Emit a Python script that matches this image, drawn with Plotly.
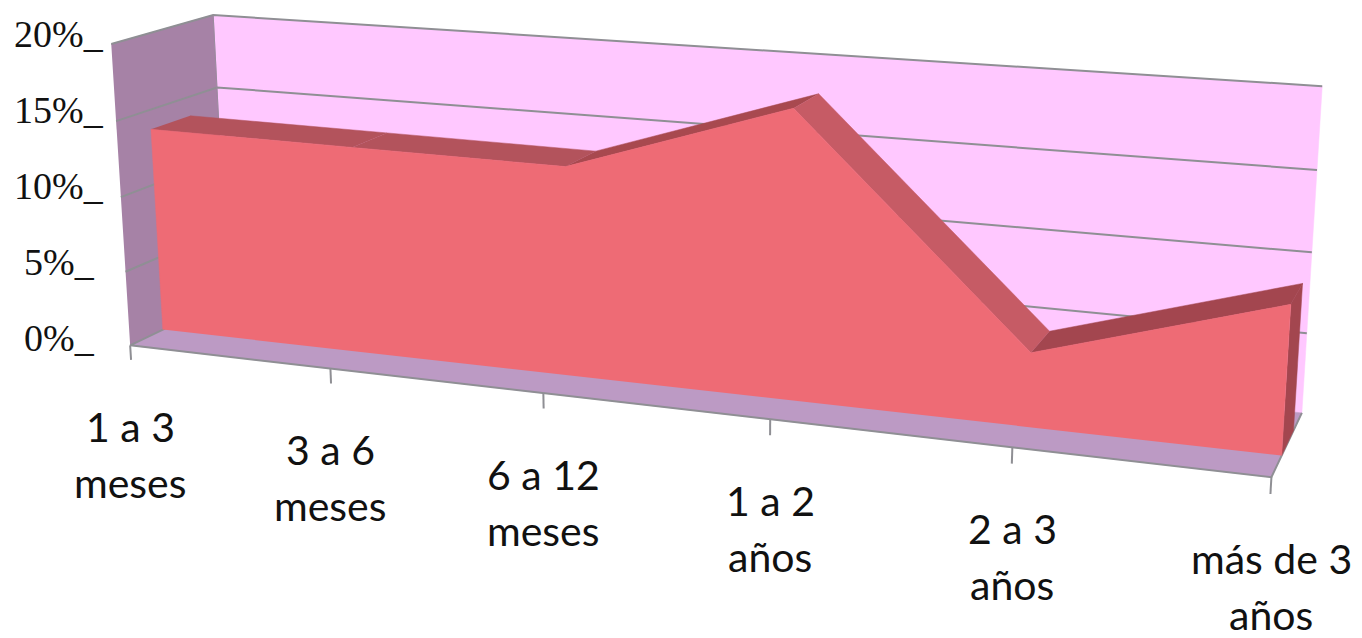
import numpy as np
import plotly.graph_objects as go

categories = [["1 a 3", "meses"], ["3 a 6", "meses"], ["6 a 12", "meses"],
              ["1 a 2", "años"], ["2 a 3", "años"], ["más de 3", "años"]]
values = [13.7, 13.6, 13.5, 18.2, 4.6, 9.0]
y_ticks = [0, 5, 10, 15, 20]
y_tick_labels = ["0%_", "5%_", "10%_", "15%_", "20%_"]

# Camera calibration: (category index, percent, depth) -> page pixel
CAMERA_FROM = [(0, 20, 0), (0, 0, 0), (0, 10, 0), (0, 20, 1), (0, 15, 1), (0, 0, 1),
               (5, 20, 1), (5, 10, 1), (5, 0, 1), (5, 0, 0),
               (1, 0, 0), (2, 0, 0), (3, 0, 0), (4, 0, 0)]
CAMERA_TO = [(112, 44), (131, 343), (120, 198), (213, 14), (217, 87), (228, 301),
             (1322, 87), (1312, 253), (1302, 410), (1272, 477),
             (330, 368), (543, 393), (770, 420), (1012, 449)]


def fit_camera():
    rows, rhs = [], []
    for (a, b, c), (u, v) in zip(CAMERA_FROM, CAMERA_TO):
        rows.append([a, b, c, 1, 0, 0, 0, 0, -u * a, -u * b, -u * c])
        rhs.append(u)
        rows.append([0, 0, 0, 0, a, b, c, 1, -v * a, -v * b, -v * c])
        rhs.append(v)
    sol = np.linalg.lstsq(np.array(rows, float), np.array(rhs, float), rcond=None)[0]
    return np.append(sol, 1.0).reshape(3, 4)


P = fit_camera()


def project(points):
    q = P @ np.column_stack([np.array(points, float), np.ones(len(points))]).T
    return (q[0] / q[2]).tolist(), (q[1] / q[2]).tolist()


fig = go.Figure()


def poly(points, color):
    xs, ys = project(points)
    fig.add_trace(go.Scatter(x=xs, y=ys, mode="lines", fill="toself", fillcolor=color,
                             line=dict(width=0.5, color=color), hoverinfo="skip", showlegend=False))


def line(points, color, width=2):
    xs, ys = project(points)
    fig.add_trace(go.Scatter(x=xs, y=ys, mode="lines", line=dict(width=width, color=color),
                             hoverinfo="skip", showlegend=False))


N = len(values) - 1
FRONT, BACK = 0.32, 0.71
WALL, SIDE, FLOOR, FACE = "#ffc8ff", "#a682a6", "#bc9ac4", "#ee6b75"
GRID = "#8f8f94"

poly([(0, 0, 1), (N, 0, 1), (N, 20, 1), (0, 20, 1)], WALL)
poly([(0, 0, 0), (0, 0, 1), (0, 20, 1), (0, 20, 0)], SIDE)
poly([(0, 0, 0), (N, 0, 0), (N, 0, 1), (0, 0, 1)], FLOOR)
for t in y_ticks[1:]:
    line([(0, t, 0), (0, t, 1), (N, t, 1)], GRID)
line([(0, 0, 1), (0, 20, 1)], "#9a8a9e", 1)

# Axis line, floor edge and ticks
line([(0, 0, 1), (0, 0, 0), (N, 0, 0), (N, 0, 1)], GRID)
for i in range(len(values)):
    line([(i, 0, 0), (i, -1, 0)], GRID)

# Area: top strips then the end cap and the front face
strip_colors = ["#b3535c", "#b3535c", "#a8494f", "#c65b65", "#a3464f"]
for i in range(N):
    poly([(i, values[i], FRONT), (i + 1, values[i + 1], FRONT),
          (i + 1, values[i + 1], BACK), (i, values[i], BACK)], strip_colors[i])
poly([(N, values[N], FRONT), (N, values[N], BACK), (N, 0, BACK), (N, 0, FRONT)], "#a3464f")
front = [(i, v, FRONT) for i, v in enumerate(values)]
poly([(0, 0, FRONT)] + front + [(N, 0, FRONT)], FACE)

annotations = []
for t, lab in zip(y_ticks, y_tick_labels):
    annotations.append(dict(x=59, y=338 - t * 15.2, text=lab, showarrow=False, xanchor="center",
                            yanchor="middle", font=dict(family="Liberation Serif", size=38, color="#111111")))
for i, lines in enumerate(categories):
    px, py = project([(i, 0, 0)])
    for k, txt in enumerate(lines):
        annotations.append(dict(x=px[0], y=py[0] + 81 + 56 * k, text=txt, showarrow=False,
                                xanchor="center", yanchor="middle",
                                font=dict(family="Lato", size=41, color="#111111")))

fig.update_layout(width=1362, height=638, margin=dict(l=0, r=0, t=0, b=0), autosize=False,
                  paper_bgcolor="white", plot_bgcolor="white", showlegend=False,
                  xaxis=dict(range=[0, 1362], visible=False, fixedrange=True),
                  yaxis=dict(range=[638, 0], visible=False, fixedrange=True),
                  annotations=annotations)
fig.write_html("out.html", config={"displayModeBar": False},
               post_script="document.body.style.margin='0';")
